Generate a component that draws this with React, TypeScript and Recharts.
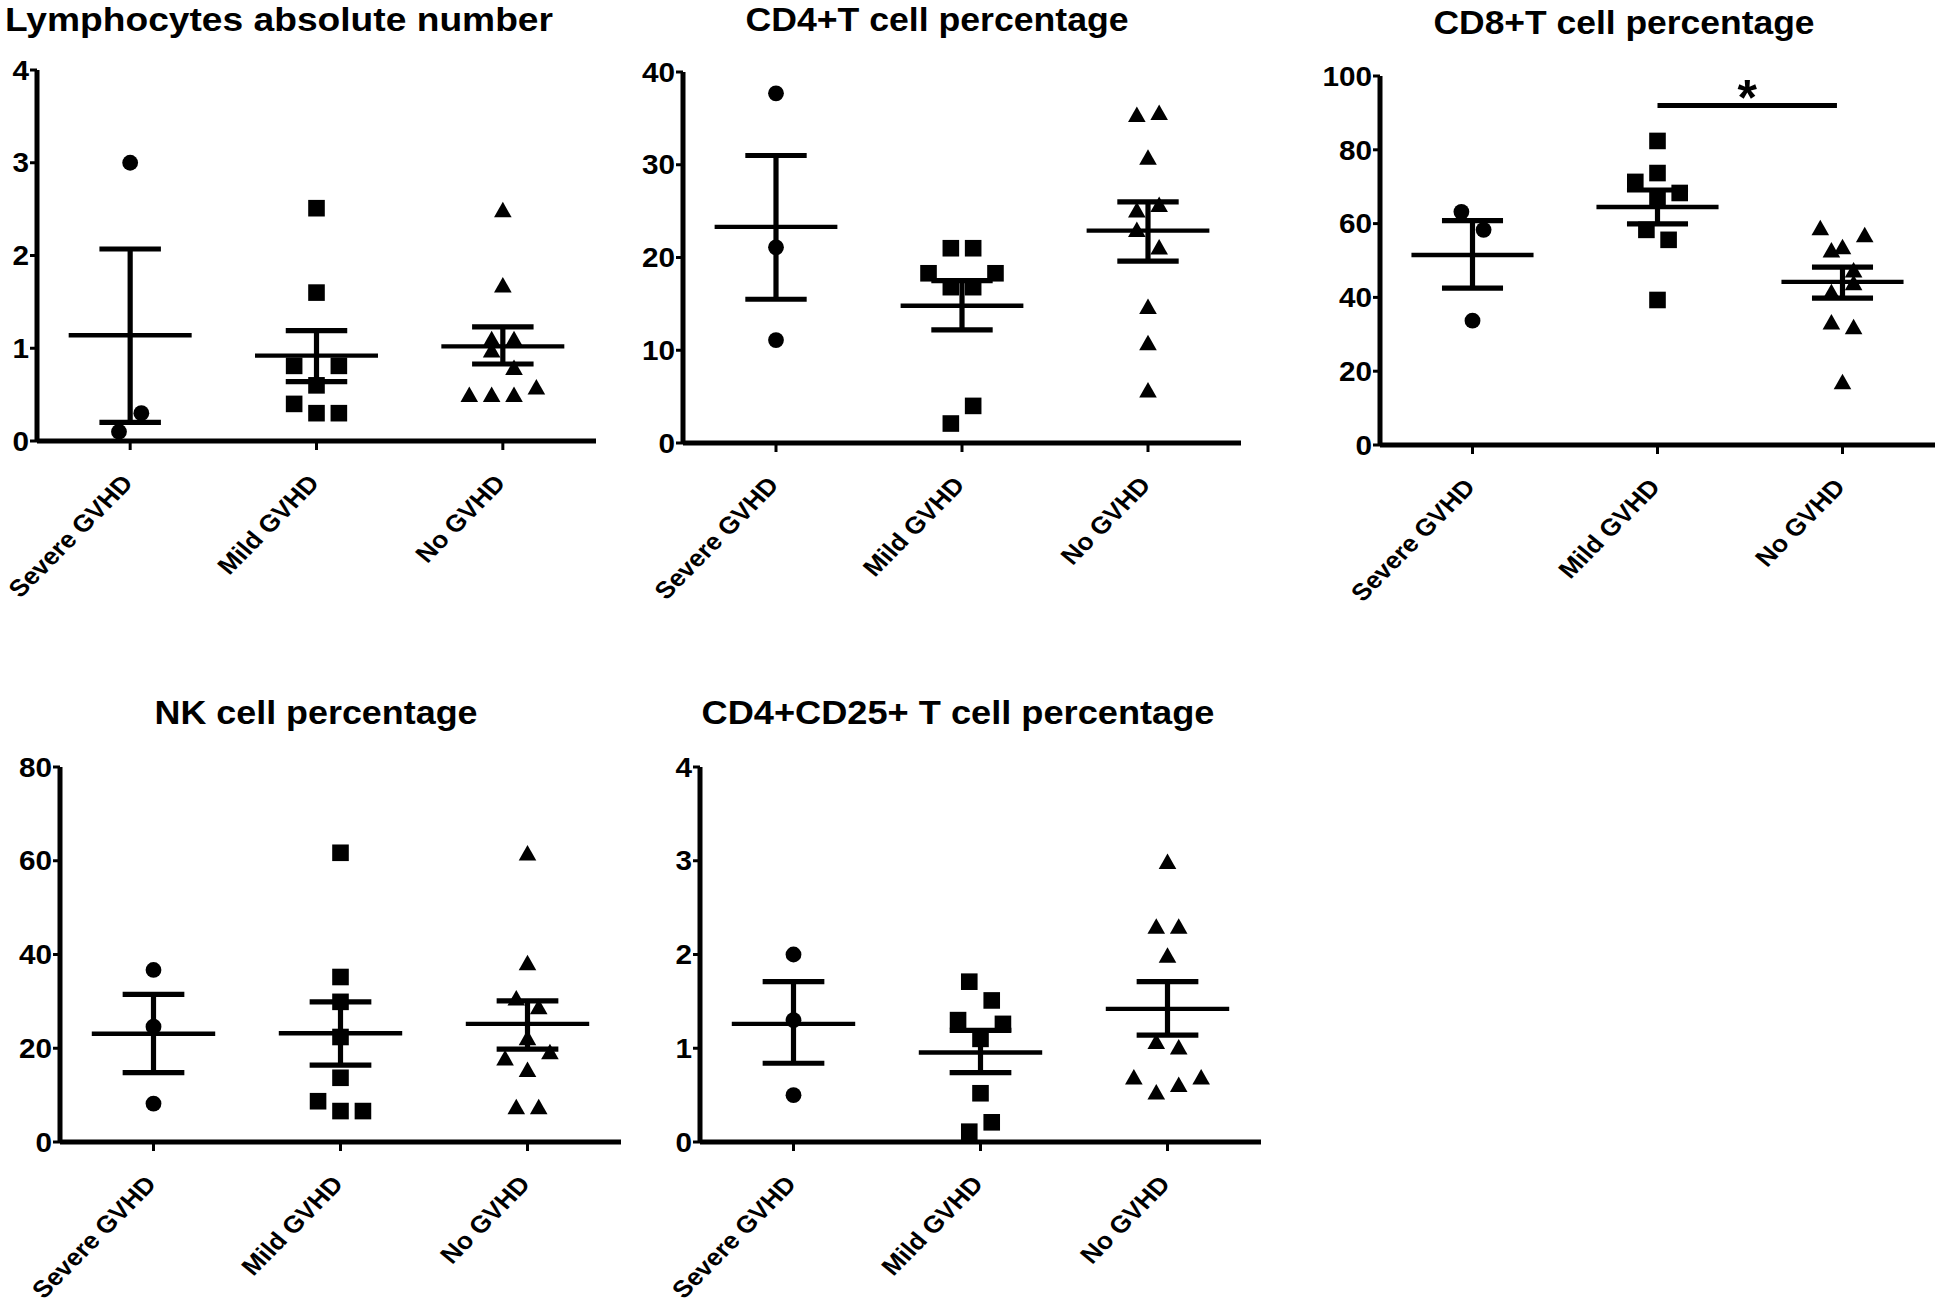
import React from 'react';
import { ScatterChart, Scatter, XAxis, YAxis, ReferenceLine, ReferenceDot } from 'recharts';

// ---------- shared ----------
const groups = ['Severe GVHD', 'Mild GVHD', 'No GVHD'];
const categoryTicks = [1, 2, 3];

// ---------- Lymphocytes absolute number ----------
const lymTitle = 'Lymphocytes absolute number';
const lymTicks = [0, 1, 2, 3, 4];
const lymSevere = [3.0, 0.3, 0.1];
const lymSevereJitter = [0, 0.06, -0.06];
const lymMild = [2.51, 1.6, 0.81, 0.81, 0.6, 0.4, 0.3, 0.3];
const lymMildJitter = [0, 0, -0.12, 0.12, 0, -0.12, 0, 0.12];
const lymNo = [2.49, 1.68, 1.1, 1.1, 0.98, 0.79, 0.58, 0.5, 0.5, 0.5];
const lymNoJitter = [0, 0, -0.06, 0.06, -0.06, 0.06, 0.18, -0.18, -0.06, 0.06];
const lymMean = [1.14, 0.92, 1.02];
const lymUpper = [2.07, 1.19, 1.23];
const lymLower = [0.2, 0.64, 0.83];

// ---------- CD4+T cell percentage ----------
const cd4Title = 'CD4+T cell percentage';
const cd4Ticks = [0, 10, 20, 30, 40];
const cd4Severe = [37.7, 21.1, 11.1];
const cd4SevereJitter = [0, 0, 0];
const cd4Mild = [21.0, 21.0, 18.3, 18.3, 16.8, 16.8, 4.0, 2.1];
const cd4MildJitter = [-0.06, 0.06, -0.18, 0.18, -0.06, 0.06, 0.06, -0.06];
const cd4No = [35.4, 35.6, 30.8, 25.7, 25.1, 23.0, 21.1, 14.7, 10.8, 5.7];
const cd4NoJitter = [-0.06, 0.06, 0, 0.06, -0.06, -0.06, 0.06, 0, 0, 0];
const cd4Mean = [23.3, 14.8, 22.9];
const cd4Upper = [31.0, 17.5, 26.0];
const cd4Lower = [15.5, 12.2, 19.6];

// ---------- CD8+T cell percentage ----------
const cd8Title = 'CD8+T cell percentage';
const cd8Ticks = [0, 20, 40, 60, 80, 100];
const cd8Severe = [63.2, 58.3, 33.7];
const cd8SevereJitter = [-0.06, 0.06, 0];
const cd8Mild = [82.4, 73.7, 71.3, 68.3, 66.4, 58.3, 55.6, 39.3];
const cd8MildJitter = [0, 0, -0.12, 0.12, 0, -0.06, 0.06, 0];
const cd8No = [58.8, 56.9, 53.7, 52.8, 47.4, 43.9, 41.5, 33.3, 32.0, 17.1];
const cd8NoJitter = [-0.12, 0.12, 0, -0.06, 0.06, 0.06, -0.06, -0.06, 0.06, 0];
const cd8Mean = [51.5, 64.5, 44.2];
const cd8Upper = [60.8, 69.1, 48.2];
const cd8Lower = [42.5, 59.9, 39.8];
const cd8SigFrom = 2.0;
const cd8SigTo = 2.97;
const cd8SigLevel = 92;
const cd8SigMark = '*';

// ---------- NK cell percentage ----------
const nkTitle = 'NK cell percentage';
const nkTicks = [0, 20, 40, 60, 80];
const nkSevere = [36.7, 24.6, 8.2];
const nkSevereJitter = [0, 0, 0];
const nkMild = [61.7, 35.2, 29.9, 22.4, 13.7, 8.7, 6.6, 6.6];
const nkMildJitter = [0, 0, 0, 0, 0, -0.12, 0, 0.12];
const nkNo = [61.6, 38.2, 30.7, 28.8, 22.2, 19.2, 17.9, 15.4, 7.5, 7.5];
const nkNoJitter = [0, 0, -0.06, 0.06, 0, 0.12, -0.12, 0, -0.06, 0.06];
const nkMean = [23.1, 23.2, 25.2];
const nkUpper = [31.5, 29.9, 30.1];
const nkLower = [14.8, 16.4, 19.8];

// ---------- CD4+CD25+ T cell percentage ----------
const tregTitle = 'CD4+CD25+ T cell percentage';
const tregTicks = [0, 1, 2, 3, 4];
const tregSevere = [2.0, 1.3, 0.5];
const tregSevereJitter = [0, 0, 0];
const tregMild = [1.71, 1.51, 1.3, 1.26, 1.1, 0.52, 0.21, 0.11];
const tregMildJitter = [-0.06, 0.06, -0.12, 0.12, 0, 0, 0.06, -0.06];
const tregNo = [2.99, 2.3, 2.3, 1.99, 1.07, 1.01, 0.69, 0.69, 0.61, 0.53];
const tregNoJitter = [0, -0.06, 0.06, 0, -0.06, 0.06, -0.18, 0.18, 0.06, -0.06];
const tregMean = [1.26, 0.955, 1.42];
const tregUpper = [1.71, 1.19, 1.71];
const tregLower = [0.84, 0.74, 1.14];

// ---------- styling ----------
const FONT = '"Liberation Sans", Arial, Helvetica, sans-serif';
const TICK_STRETCH = 1.1;
const INK = '#000';

const toPoints = (vals: number[], jit: number[], cat: number) =>
  vals.map((v, i) => ({ x: cat + jit[i], y: v }));

const CircleMark = (p: any) => <circle cx={p.cx} cy={p.cy} r={7.9} fill={INK} />;
const SquareMark = (p: any) => (
  <rect x={p.cx - 8.3} y={p.cy - 8.3} width={16.6} height={16.6} fill={INK} />
);
const TriangleMark = (p: any) => (
  <path
    d={`M${p.cx},${p.cy - 8.2} L${p.cx + 8.8},${p.cy + 7.3} L${p.cx - 8.8},${p.cy + 7.3} Z`}
    fill={INK}
  />
);

const YTick = (props: any) => {
  const { x, y, payload } = props;
  return (
    <text
      transform={`translate(${x},${y}) scale(${TICK_STRETCH},1)`}
      textAnchor="end"
      dy="0.36em"
      fontSize={27}
      fontWeight="bold"
      fontFamily={FONT}
      fill={INK}
    >
      {payload.value}
    </text>
  );
};

const XTick = (props: any) => {
  const { x, y, payload } = props;
  const label = groups[Math.round(payload.value) - 1];
  return (
    <text
      transform={`translate(${x + 4},${y + 32}) scale(${TICK_STRETCH},1) rotate(-48)`}
      textAnchor="end"
      fontSize={24}
      fontWeight="bold"
      fontFamily={FONT}
      fill={INK}
    >
      {label}
    </text>
  );
};

type PanelCfg = {
  title: string;
  titleX: number;
  titleY: number;
  titleW: number;
  left: number;
  top: number;
  w: number;
  h: number;
  yAxisWidth: number;
  right: number;
  max: number;
  ticks: number[];
  severe: number[];
  severeJ: number[];
  mild: number[];
  mildJ: number[];
  no: number[];
  noJ: number[];
  mean: number[];
  upper: number[];
  lower: number[];
  sig?: { from: number; to: number; level: number; mark: string; markLevel: number };
};

const panels: PanelCfg[] = [
  {
    title: lymTitle, titleX: 279, titleY: 31, titleW: 548,
    left: 37, top: 70, w: 559, h: 371, yAxisWidth: 37, right: 10,
    max: 4, ticks: lymTicks,
    severe: lymSevere, severeJ: lymSevereJitter, mild: lymMild, mildJ: lymMildJitter,
    no: lymNo, noJ: lymNoJitter, mean: lymMean, upper: lymUpper, lower: lymLower,
  },
  {
    title: cd4Title, titleX: 937, titleY: 31, titleW: 383,
    left: 683, top: 72, w: 558, h: 371, yAxisWidth: 80, right: 10,
    max: 40, ticks: cd4Ticks,
    severe: cd4Severe, severeJ: cd4SevereJitter, mild: cd4Mild, mildJ: cd4MildJitter,
    no: cd4No, noJ: cd4NoJitter, mean: cd4Mean, upper: cd4Upper, lower: cd4Lower,
  },
  {
    title: cd8Title, titleX: 1624, titleY: 34, titleW: 381,
    left: 1380, top: 76, w: 555, h: 369, yAxisWidth: 80, right: 0,
    max: 100, ticks: cd8Ticks,
    severe: cd8Severe, severeJ: cd8SevereJitter, mild: cd8Mild, mildJ: cd8MildJitter,
    no: cd8No, noJ: cd8NoJitter, mean: cd8Mean, upper: cd8Upper, lower: cd8Lower,
    sig: { from: cd8SigFrom, to: cd8SigTo, level: cd8SigLevel, mark: cd8SigMark, markLevel: 97 },
  },
  {
    title: nkTitle, titleX: 316, titleY: 724, titleW: 323,
    left: 60, top: 767, w: 561, h: 375, yAxisWidth: 60, right: 10,
    max: 80, ticks: nkTicks,
    severe: nkSevere, severeJ: nkSevereJitter, mild: nkMild, mildJ: nkMildJitter,
    no: nkNo, noJ: nkNoJitter, mean: nkMean, upper: nkUpper, lower: nkLower,
  },
  {
    title: tregTitle, titleX: 958, titleY: 724, titleW: 513,
    left: 700, top: 767, w: 561, h: 375, yAxisWidth: 80, right: 10,
    max: 4, ticks: tregTicks,
    severe: tregSevere, severeJ: tregSevereJitter, mild: tregMild, mildJ: tregMildJitter,
    no: tregNo, noJ: tregNoJitter, mean: tregMean, upper: tregUpper, lower: tregLower,
  },
];

const MEAN_HALF = 0.33;
const CAP_HALF = 0.165;

function Panel({ cfg }: { cfg: PanelCfg }) {
  const topPad = 30;
  const xAxisH = 250;
  const width = cfg.yAxisWidth + cfg.w + cfg.right;
  const height = topPad + cfg.h + xAxisH;
  const lines: React.ReactNode[] = [];
  categoryTicks.forEach((cat, i) => {
    lines.push(
      <ReferenceLine
        key={`m${i}`}
        segment={[{ x: cat - MEAN_HALF, y: cfg.mean[i] }, { x: cat + MEAN_HALF, y: cfg.mean[i] }]}
        stroke={INK}
        strokeWidth={4.4}
        ifOverflow="visible"
      />,
      <ReferenceLine
        key={`u${i}`}
        segment={[{ x: cat - CAP_HALF, y: cfg.upper[i] }, { x: cat + CAP_HALF, y: cfg.upper[i] }]}
        stroke={INK}
        strokeWidth={5.2}
        ifOverflow="visible"
      />,
      <ReferenceLine
        key={`l${i}`}
        segment={[{ x: cat - CAP_HALF, y: cfg.lower[i] }, { x: cat + CAP_HALF, y: cfg.lower[i] }]}
        stroke={INK}
        strokeWidth={5.2}
        ifOverflow="visible"
      />,
      <ReferenceLine
        key={`v${i}`}
        segment={[{ x: cat, y: cfg.lower[i] }, { x: cat, y: cfg.upper[i] }]}
        stroke={INK}
        strokeWidth={5.2}
        ifOverflow="visible"
      />
    );
  });
  return (
    <div style={{ position: 'absolute', left: cfg.left - cfg.yAxisWidth, top: cfg.top - topPad }}>
      <ScatterChart
        width={width}
        height={height}
        margin={{ top: topPad, right: cfg.right, bottom: 0, left: 0 }}
      >
        <XAxis
          type="number"
          dataKey="x"
          domain={[0.5, 3.5]}
          ticks={categoryTicks}
          interval={0}
          height={xAxisH}
          allowDataOverflow
          tick={<XTick />}
          tickSize={9}
          tickMargin={2}
          axisLine={{ stroke: INK, strokeWidth: 5 }}
          tickLine={{ stroke: INK, strokeWidth: 3 }}
        />
        <YAxis
          type="number"
          dataKey="y"
          domain={[0, cfg.max]}
          ticks={cfg.ticks}
          interval={0}
          width={cfg.yAxisWidth}
          allowDataOverflow
          tick={<YTick />}
          tickSize={7}
          tickMargin={1}
          axisLine={{ stroke: INK, strokeWidth: 5 }}
          tickLine={{ stroke: INK, strokeWidth: 3 }}
        />
        <Scatter
          name={groups[0]}
          data={toPoints(cfg.severe, cfg.severeJ, 1)}
          shape={CircleMark}
          fill={INK}
          isAnimationActive={false}
        />
        <Scatter
          name={groups[1]}
          data={toPoints(cfg.mild, cfg.mildJ, 2)}
          shape={SquareMark}
          fill={INK}
          isAnimationActive={false}
        />
        <Scatter
          name={groups[2]}
          data={toPoints(cfg.no, cfg.noJ, 3)}
          shape={TriangleMark}
          fill={INK}
          isAnimationActive={false}
        />
        {lines}
        {cfg.sig && (
          <ReferenceLine
            segment={[{ x: cfg.sig.from, y: cfg.sig.level }, { x: cfg.sig.to, y: cfg.sig.level }]}
            stroke={INK}
            strokeWidth={5}
            ifOverflow="visible"
          />
        )}
        {cfg.sig && (
          <ReferenceDot
            x={(cfg.sig.from + cfg.sig.to) / 2}
            y={cfg.sig.markLevel}
            r={0}
            ifOverflow="visible"
            shape={(p: any) => (
              <text
                x={p.cx}
                y={p.cy + 28}
                textAnchor="middle"
                fontSize={50}
                fontWeight="bold"
                fontFamily={FONT}
                fill={INK}
              >
                {cfg.sig!.mark}
              </text>
            )}
          />
        )}
      </ScatterChart>
    </div>
  );
}

export default function App() {
  return (
    <div
      style={{
        position: 'absolute',
        left: 0,
        top: 0,
        width: 1935,
        height: 1309,
        overflow: 'hidden',
        background: '#fff',
        fontFamily: FONT,
      }}
    >
      {panels.map((p, i) => (
        <Panel key={i} cfg={p} />
      ))}
      <svg
        width={1935}
        height={1309}
        style={{ position: 'absolute', left: 0, top: 0, pointerEvents: 'none' }}
      >
        {panels.map((p, i) => (
          <text
            key={i}
            x={p.titleX}
            y={p.titleY}
            textAnchor="middle"
            textLength={p.titleW}
            lengthAdjust="spacingAndGlyphs"
            fontSize={34}
            fontWeight="bold"
            fontFamily={FONT}
            fill={INK}
          >
            {p.title}
          </text>
        ))}
      </svg>
    </div>
  );
}
